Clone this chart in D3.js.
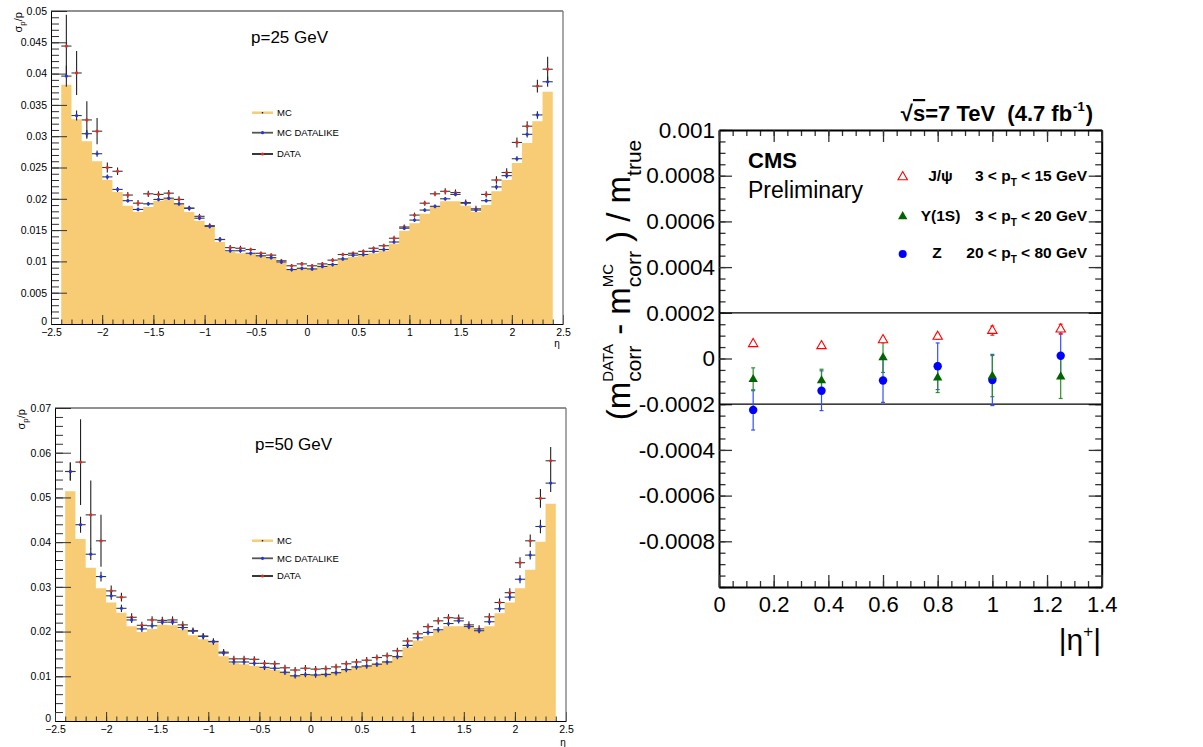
<!DOCTYPE html>
<html>
<head>
<meta charset="utf-8">
<script src="https://cdn.jsdelivr.net/npm/d3@7"></script>
<style>
  body { margin: 0; background: #fff; }
  text { font-family: "Liberation Sans", Arial, Helvetica, sans-serif; white-space: pre; }
</style>
</head>
<body>
<svg id="chart" width="1203" height="747"></svg>
<script>
// eta bins: lower edges, width 0.1
const etaLow = [-2.4,-2.3,-2.2,-2.1,-2.0,-1.9,-1.8,-1.7,-1.6,-1.5,-1.4,-1.3,-1.2,-1.1,-1.0,-0.9,-0.8,-0.7,-0.6,-0.5,-0.4,-0.3,-0.2,-0.1,
                0.0,0.1,0.2,0.3,0.4,0.5,0.6,0.7,0.8,0.9,1.0,1.1,1.2,1.3,1.4,1.5,1.6,1.7,1.8,1.9,2.0,2.1,2.2,2.3];
const binW = 0.1;

// p = 25 GeV
const mc25 = [0.0382,0.0327,0.0292,0.0260,0.0230,0.0211,0.0189,0.0179,0.0187,0.0197,0.0200,0.0193,0.0179,0.0165,0.0155,0.0131,0.0115,0.0113,0.0112,0.0109,0.0105,0.0098,0.0088,0.0090,
              0.0088,0.0091,0.0094,0.0104,0.0107,0.0110,0.0113,0.0117,0.0128,0.0149,0.0161,0.0176,0.0187,0.0196,0.0196,0.0189,0.0179,0.0190,0.0212,0.0230,0.0257,0.0289,0.0324,0.0371];
const like25 = [0.0396,0.0333,0.0304,0.0272,0.0235,0.0215,0.0197,0.0183,0.0192,0.0199,0.0201,0.0192,0.0185,0.0169,0.0156,0.0135,0.0117,0.0117,0.0113,0.0109,0.0106,0.0099,0.0087,0.0089,
                0.0088,0.0092,0.0095,0.0104,0.0110,0.0111,0.0116,0.0119,0.0131,0.0153,0.0166,0.0182,0.0188,0.0200,0.0207,0.0193,0.0182,0.0197,0.0219,0.0237,0.0264,0.0303,0.0334,0.0387];
const data25 = [0.0444,0.0401,0.0326,0.0308,0.0250,0.0244,0.0206,0.0193,0.0208,0.0207,0.0209,0.0199,0.0185,0.0172,0.0157,0.0135,0.0122,0.0121,0.0119,0.0113,0.0110,0.0101,0.0093,0.0096,
                0.0093,0.0096,0.0102,0.0111,0.0113,0.0116,0.0121,0.0125,0.0137,0.0155,0.0174,0.0193,0.0208,0.0212,0.0210,0.0194,0.0184,0.0207,0.0230,0.0242,0.0290,0.0316,0.0380,0.0407];
const like25Err = [0.0017,0.0008,0.0006,0.0005,0.0004,0.0004,0.0003,0.0003,0.0003,0.0003,0.0003,0.0003,0.0003,0.0003,0.0003,0.0003,0.0003,0.0003,0.0003,0.0003,0.0003,0.0003,0.0003,0.0003,
                   0.0003,0.0003,0.0003,0.0003,0.0003,0.0003,0.0003,0.0003,0.0003,0.0003,0.0003,0.0003,0.0003,0.0003,0.0003,0.0003,0.0003,0.0003,0.0004,0.0004,0.0004,0.0005,0.0006,0.0008];
const data25Err = [0.0050,0.0035,0.0030,0.0021,0.0008,0.0006,0.0005,0.0005,0.0005,0.0005,0.0005,0.0005,0.0004,0.0004,0.0004,0.0004,0.0004,0.0004,0.0003,0.0003,0.0003,0.0003,0.0003,0.0003,
                   0.0003,0.0003,0.0003,0.0003,0.0003,0.0003,0.0003,0.0003,0.0004,0.0004,0.0004,0.0004,0.0004,0.0005,0.0005,0.0005,0.0005,0.0005,0.0006,0.0007,0.0008,0.0008,0.0010,0.0020];

// p = 50 GeV
const mc50 = [0.0514,0.0407,0.0343,0.0297,0.0265,0.0242,0.0212,0.0199,0.0206,0.0215,0.0214,0.0205,0.0192,0.0183,0.0174,0.0145,0.0129,0.0127,0.0123,0.0118,0.0114,0.0110,0.0103,0.0103,
              0.0103,0.0107,0.0110,0.0116,0.0121,0.0125,0.0129,0.0134,0.0144,0.0165,0.0180,0.0190,0.0202,0.0212,0.0212,0.0209,0.0201,0.0212,0.0241,0.0265,0.0297,0.0338,0.0401,0.0486];
const like50 = [0.0558,0.0439,0.0373,0.0323,0.0280,0.0252,0.0226,0.0206,0.0213,0.0221,0.0221,0.0209,0.0201,0.0189,0.0177,0.0152,0.0132,0.0132,0.0129,0.0120,0.0118,0.0109,0.0101,0.0104,
                0.0103,0.0104,0.0108,0.0115,0.0121,0.0123,0.0127,0.0132,0.0144,0.0169,0.0186,0.0198,0.0204,0.0218,0.0224,0.0211,0.0202,0.0222,0.0251,0.0277,0.0317,0.0371,0.0435,0.0532];
const data50 = [0.0558,0.0579,0.0461,0.0403,0.0291,0.0277,0.0232,0.0214,0.0226,0.0225,0.0226,0.0215,0.0202,0.0190,0.0178,0.0154,0.0139,0.0139,0.0138,0.0129,0.0128,0.0119,0.0114,0.0118,
                0.0116,0.0117,0.0121,0.0128,0.0132,0.0136,0.0142,0.0146,0.0157,0.0179,0.0195,0.0211,0.0224,0.0231,0.0230,0.0215,0.0206,0.0233,0.0265,0.0287,0.0354,0.0403,0.0498,0.0582];
const like50Err = [0.0020,0.0018,0.0013,0.0011,0.0009,0.0008,0.0007,0.0007,0.0006,0.0006,0.0006,0.0006,0.0006,0.0006,0.0006,0.0006,0.0006,0.0006,0.0006,0.0006,0.0006,0.0006,0.0006,0.0006,
                   0.0006,0.0006,0.0006,0.0006,0.0006,0.0006,0.0006,0.0006,0.0006,0.0006,0.0006,0.0006,0.0006,0.0006,0.0006,0.0006,0.0006,0.0007,0.0007,0.0008,0.0009,0.0010,0.0015,0.0020];
const data50Err = [0.0020,0.0096,0.0077,0.0058,0.0012,0.0010,0.0009,0.0008,0.0008,0.0008,0.0008,0.0008,0.0007,0.0007,0.0007,0.0007,0.0007,0.0007,0.0007,0.0007,0.0007,0.0007,0.0007,0.0007,
                   0.0007,0.0007,0.0007,0.0007,0.0007,0.0007,0.0007,0.0007,0.0007,0.0007,0.0007,0.0007,0.0008,0.0008,0.0008,0.0008,0.0008,0.0008,0.0009,0.0010,0.0012,0.0014,0.0021,0.0031];

const legendNames = ["MC", "MC DATALIKE", "DATA"];

// right panel: mass scale residual vs |eta+|
const etaPlus = [0.125, 0.375, 0.6, 0.8, 1.0, 1.25];
const jpsi    = [0.000064, 0.000055, 0.000081, 0.000096, 0.000122, 0.000128];
const jpsiErr = [0.000008, 0.000008, 0.000010, 0.000012, 0.000020, 0.000022];
const ups     = [-0.000091, -0.000097, 0.000004, -0.000084, -0.000077, -0.000080];
const upsErr  = [0.000050, 0.000050, 0.000065, 0.000065, 0.000090, 0.000095];
const zBoson  = [-0.000225, -0.000141, -0.000096, -0.000034, -0.000094, 0.000012];
const zErr    = [0.000088, 0.000087, 0.000096, 0.000102, 0.000112, 0.000098];
const refLines = [0.0002, -0.0002];
const resNames = ["J/\u03C8", "\u03A5(1S)", "Z"];
const ptLow = [3, 3, 20];
const ptHigh = [15, 20, 80];

const svg = d3.select("#chart");
const mcFill = "#f7cc74";
const redC = "#e8281c", blueC = "#1f35f0";

function measure(txt, size, weight) {
  const t = svg.append("text").attr("font-size", size).attr("font-weight", weight || "normal").text(txt);
  const w = t.node().getComputedTextLength();
  t.remove();
  return w;
}

function addAxis(gen, tx, ty, o) {
  const a = svg.append("g").attr("transform", `translate(${tx},${ty})`).call(gen);
  a.attr("font-size", o.font || 10);
  if (o.noDomain) a.select(".domain").remove();
  else a.select(".domain").attr("stroke", "#000").attr("stroke-width", o.domainW || 1);
  a.selectAll(".tick line").attr("stroke", o.tickColor || "#333").attr("stroke-width", o.tickW || 1);
  a.selectAll(".tick text").attr("fill", "#000");
  return a;
}

// ---------- left panels ----------
function etaPanel(p) {
  const x = d3.scaleLinear().domain([-2.5, 2.5]).range([p.x0, p.x1]);
  const y = d3.scaleLinear().domain([0, p.ymax]).range([p.y0, p.y1]);

  // MC histogram (step area)
  const steps = etaLow.map((e, i) => [e, p.mc[i]]);
  steps.push([etaLow[etaLow.length - 1] + binW, p.mc[p.mc.length - 1]]);
  svg.append("path").datum(steps)
    .attr("fill", mcFill)
    .attr("d", d3.area().curve(d3.curveStepAfter).x(d => x(d[0])).y0(y(0)).y1(d => y(d[1])));

  const fmtY = d => d === 0 ? "0" : String(+d.toFixed(4));
  const fmtX = d => (d < 0 ? "\u2212" : "") + String(Math.abs(+d.toFixed(2)));

  addAxis(d3.axisLeft(y).ticks(p.yMinor).tickSize(-8).tickSizeOuter(0).tickFormat(""), p.x0, 0, {noDomain: true});
  const ya = addAxis(d3.axisLeft(y).ticks(p.yMajor).tickSize(-16).tickSizeOuter(0).tickPadding(4).tickFormat(fmtY), p.x0, 0, {font: 10.5});
  // lift the "0" label a little off the x labels
  ya.selectAll(".tick").filter(d => d === 0).select("text").attr("dy", "0.05em");
  addAxis(d3.axisBottom(x).ticks(50).tickSize(-4.5).tickSizeOuter(0).tickFormat(""), 0, p.y0, {noDomain: true});
  addAxis(d3.axisBottom(x).ticks(10).tickSize(-9).tickSizeOuter(0).tickPadding(5).tickFormat(fmtX), 0, p.y0, {font: 10.5});

  // frame top / right
  svg.append("line").attr("x1", p.x0).attr("x2", p.x1).attr("y1", p.y1).attr("y2", p.y1).attr("stroke", "#222");
  svg.append("line").attr("x1", p.x1).attr("x2", p.x1).attr("y1", p.y1).attr("y2", p.y0).attr("stroke", "#777").attr("stroke-width", 1.3);

  // DATA then MC DATALIKE points with error bars
  [[p.data, p.dataErr, redC], [p.like, p.likeErr, blueC]].forEach(([vals, errs, col]) => {
    const pts = vals.map((v, i) => ({lo: etaLow[i], v: v, e: errs[i]}));
    const g = svg.append("g");
    g.selectAll("line.h").data(pts).join("line").attr("class", "h")
      .attr("x1", d => x(d.lo)).attr("x2", d => x(d.lo + binW))
      .attr("y1", d => y(d.v)).attr("y2", d => y(d.v))
      .attr("stroke", "#3a3a3a").attr("stroke-width", 1.1);
    g.selectAll("line.v").data(pts).join("line").attr("class", "v")
      .attr("x1", d => x(d.lo + binW / 2)).attr("x2", d => x(d.lo + binW / 2))
      .attr("y1", d => y(d.v - d.e)).attr("y2", d => y(d.v + d.e))
      .attr("stroke", "#222").attr("stroke-width", 1.1);
    g.selectAll("circle").data(pts).join("circle")
      .attr("cx", d => x(d.lo + binW / 2)).attr("cy", d => y(d.v))
      .attr("r", 1.6).attr("fill", col);
  });

  // text
  svg.append("text").attr("x", p.titleX).attr("y", p.titleY).attr("font-size", 17).text(p.title);

  const yl = svg.append("text")
    .attr("transform", `translate(${p.ylabX},${p.y1 + 1}) rotate(-90)`)
    .attr("text-anchor", "end").attr("font-size", 11);
  yl.append("tspan").text("\u03C3");
  yl.append("tspan").attr("font-size", 8).attr("dy", 3).text("p");
  yl.append("tspan").attr("dy", -3).text("/p");

  svg.append("text").attr("x", p.etaX).attr("y", p.etaY).attr("text-anchor", "middle")
    .attr("font-size", 10).text("\u03B7");

  // legend
  const lineCols = [mcFill, "#555", "#222"];
  const dotCols = ["#000", blueC, redC];
  const lg = svg.append("g").selectAll("g").data(legendNames).join("g")
    .attr("transform", (d, i) => `translate(${p.legX},${p.legY[i]})`);
  lg.append("line").attr("x1", 0).attr("x2", 21).attr("stroke", (d, i) => lineCols[i])
    .attr("stroke-width", (d, i) => i === 0 ? 2.5 : 1.8);
  lg.append("circle").attr("cx", 10.5).attr("r", (d, i) => i === 0 ? 0.8 : 1.6).attr("fill", (d, i) => dotCols[i]);
  lg.append("text").attr("x", 25).attr("dy", "0.35em").attr("font-size", 9.5).text(d => d);
}

etaPanel({x0: 51, x1: 563, y0: 324, y1: 11, ymax: 0.05, yMajor: 10, yMinor: 50,
  mc: mc25, like: like25, data: data25, likeErr: like25Err, dataErr: data25Err,
  title: "p=25 GeV", titleX: 251, titleY: 43, ylabX: 22, etaX: 557, etaY: 347,
  legX: 252, legY: [112.7, 132.7, 154]});

etaPanel({x0: 55, x1: 566, y0: 721, y1: 408, ymax: 0.07, yMajor: 7, yMinor: 35,
  mc: mc50, like: like50, data: data50, likeErr: like50Err, dataErr: data50Err,
  title: "p=50 GeV", titleX: 255, titleY: 450, ylabX: 25, etaX: 563, etaY: 746,
  legX: 252, legY: [540.7, 558.3, 576]});

// ---------- right panel ----------
const xr = d3.scaleLinear().domain([0, 1.4]).range([719, 1101.7]);
const yr = d3.scaleLinear().domain([-0.001, 0.001]).range([587, 130]);
const fmtR = d => Math.abs(d + 0.001) < 1e-9 ? "" : String(+d.toFixed(5));

addAxis(d3.axisLeft(yr).ticks(40).tickSize(-6.5).tickSizeOuter(0).tickFormat(""), 719, 0, {noDomain: true, tickW: 1.3});
addAxis(d3.axisRight(yr).ticks(40).tickSize(-6.5).tickSizeOuter(0).tickFormat(""), 1101.7, 0, {noDomain: true, tickW: 1.3});
addAxis(d3.axisBottom(xr).ticks(28).tickSize(-6).tickSizeOuter(0).tickFormat(""), 0, 587, {noDomain: true, tickW: 1.3});
addAxis(d3.axisTop(xr).ticks(28).tickSize(-6).tickSizeOuter(0).tickFormat(""), 0, 130, {noDomain: true, tickW: 1.3});
addAxis(d3.axisLeft(yr).ticks(10).tickSize(-13).tickSizeOuter(0).tickPadding(4).tickFormat(fmtR), 719, 0, {font: 22.5, domainW: 2, tickW: 1.3});
addAxis(d3.axisRight(yr).ticks(10).tickSize(-13).tickSizeOuter(0).tickFormat(""), 1101.7, 0, {domainW: 2, tickW: 1.3});
addAxis(d3.axisBottom(xr).ticks(7).tickSize(-12).tickSizeOuter(0).tickPadding(9).tickFormat(d => String(+d.toFixed(2))), 0, 587, {font: 22, domainW: 2, tickW: 1.3});
addAxis(d3.axisTop(xr).ticks(7).tickSize(-12).tickSizeOuter(0).tickFormat(""), 0, 130, {domainW: 2, tickW: 1.3});

svg.append("g").selectAll("line").data(refLines).join("line")
  .attr("x1", xr(0)).attr("x2", xr(1.4)).attr("y1", d => yr(d)).attr("y2", d => yr(d))
  .attr("stroke", "#000").attr("stroke-width", 1.2);

const series = [
  {vals: zBoson, errs: zErr, col: "#0000ff", errCol: "#3050ff"},
  {vals: ups, errs: upsErr, col: "#006400", errCol: "#2f8f2f"},
  {vals: jpsi, errs: jpsiErr, col: "#ff0000", errCol: "#ff2020"}
];
// error bars first, then markers
series.forEach(s => {
  const pts = s.vals.map((v, i) => ({x: etaPlus[i], v: v, e: s.errs[i]}));
  const g = svg.append("g").attr("stroke", s.errCol).attr("stroke-width", 1.2);
  g.selectAll("line.v").data(pts).join("line").attr("class", "v")
    .attr("x1", d => xr(d.x)).attr("x2", d => xr(d.x))
    .attr("y1", d => yr(d.v - d.e)).attr("y2", d => yr(d.v + d.e));
  g.selectAll("line.c1").data(pts).join("line").attr("class", "c1")
    .attr("x1", d => xr(d.x) - 2).attr("x2", d => xr(d.x) + 2)
    .attr("y1", d => yr(d.v - d.e)).attr("y2", d => yr(d.v - d.e));
  g.selectAll("line.c2").data(pts).join("line").attr("class", "c2")
    .attr("x1", d => xr(d.x) - 2).attr("x2", d => xr(d.x) + 2)
    .attr("y1", d => yr(d.v + d.e)).attr("y2", d => yr(d.v + d.e));
});
const tri = d3.symbol(d3.symbolTriangle, 38)();
svg.append("g").selectAll("circle").data(zBoson).join("circle")
  .attr("cx", (d, i) => xr(etaPlus[i])).attr("cy", d => yr(d)).attr("r", 4.2).attr("fill", "#0000ff");
svg.append("g").selectAll("path").data(ups).join("path")
  .attr("d", tri).attr("transform", (d, i) => `translate(${xr(etaPlus[i])},${yr(d)})`).attr("fill", "#006400");
svg.append("g").selectAll("path").data(jpsi).join("path")
  .attr("d", tri).attr("transform", (d, i) => `translate(${xr(etaPlus[i])},${yr(d)})`)
  .attr("fill", "#fff").attr("stroke", "#ff0000").attr("stroke-width", 1.1);

// legend
const legRowY = [179, 218.5, 256];
const lr = svg.append("g").selectAll("g").data(resNames).join("g");
lr.each(function (name, i) {
  const g = d3.select(this);
  if (i === 2) g.append("circle").attr("cx", 902.7).attr("cy", legRowY[i] - 2).attr("r", 4).attr("fill", "#0000ff");
  else g.append("path").attr("d", tri).attr("transform", `translate(902.7,${legRowY[i] - 2})`)
    .attr("fill", i === 0 ? "#fff" : "#006400").attr("stroke", i === 0 ? "#ff0000" : "none").attr("stroke-width", 1.1);
  g.append("text").attr("x", i === 2 ? 937 : 940.5).attr("y", legRowY[i] + 2).attr("text-anchor", "middle")
    .attr("font-size", 15.5).attr("font-weight", "bold").text(name);
  const t = g.append("text").attr("x", 1087).attr("y", legRowY[i] + 2).attr("text-anchor", "end")
    .attr("font-size", 15.5).attr("font-weight", "bold");
  t.append("tspan").text(`${ptLow[i]} < p`);
  t.append("tspan").attr("font-size", 10).attr("dy", 5).text("T");
  t.append("tspan").attr("dy", -5).text(` < ${ptHigh[i]} GeV`);
});

// CMS label
svg.append("text").attr("x", 748).attr("y", 168).attr("font-size", 22).attr("font-weight", "bold").text("CMS");
svg.append("text").attr("x", 748).attr("y", 198).attr("font-size", 23).text("Preliminary");

// energy / lumi title
const title = svg.append("text").attr("x", 1093).attr("y", 121).attr("text-anchor", "end")
  .attr("font-size", 22).attr("font-weight", "bold");
title.append("tspan").text("\u221A");
title.append("tspan").style("text-decoration", "overline").text("s");
title.append("tspan").text("=7 TeV  (4.7 fb");
title.append("tspan").attr("font-size", 13).attr("dy", -10).attr("dx", 1).text("-1");
title.append("tspan").attr("dy", 10).attr("dx", 1).text(")");

// x title
const xt = svg.append("text").attr("x", 1101).attr("y", 650).attr("text-anchor", "end").attr("font-size", 30);
xt.append("tspan").text("|\u03B7");
xt.append("tspan").attr("font-size", 17).attr("dy", -13).text("+");
xt.append("tspan").attr("dy", 13).text("|");

// y title: (m_corr^DATA - m_corr^MC ) / m_true
const yt = svg.append("text").attr("transform", "translate(630,280) rotate(-90)")
  .attr("text-anchor", "middle").attr("font-size", 33);
function subSup(sub, sup) {
  const wSub = measure(sub, 21), wSup = measure(sup, 15);
  yt.append("tspan").attr("font-size", 21).attr("dy", 11).text(sub);
  yt.append("tspan").attr("font-size", 15).attr("dx", -wSub).attr("dy", -28).text(sup);
  return Math.max(0, wSub - wSup);
}
yt.append("tspan").text("(m");
let gap = subSup("corr", "DATA");
yt.append("tspan").attr("dy", 17).attr("dx", gap).text(" - m");
gap = subSup("corr", "MC");
yt.append("tspan").attr("dy", 17).attr("dx", gap).text(" ) / m");
yt.append("tspan").attr("font-size", 21).attr("dy", 11).text("true");
</script>
</body>
</html>
